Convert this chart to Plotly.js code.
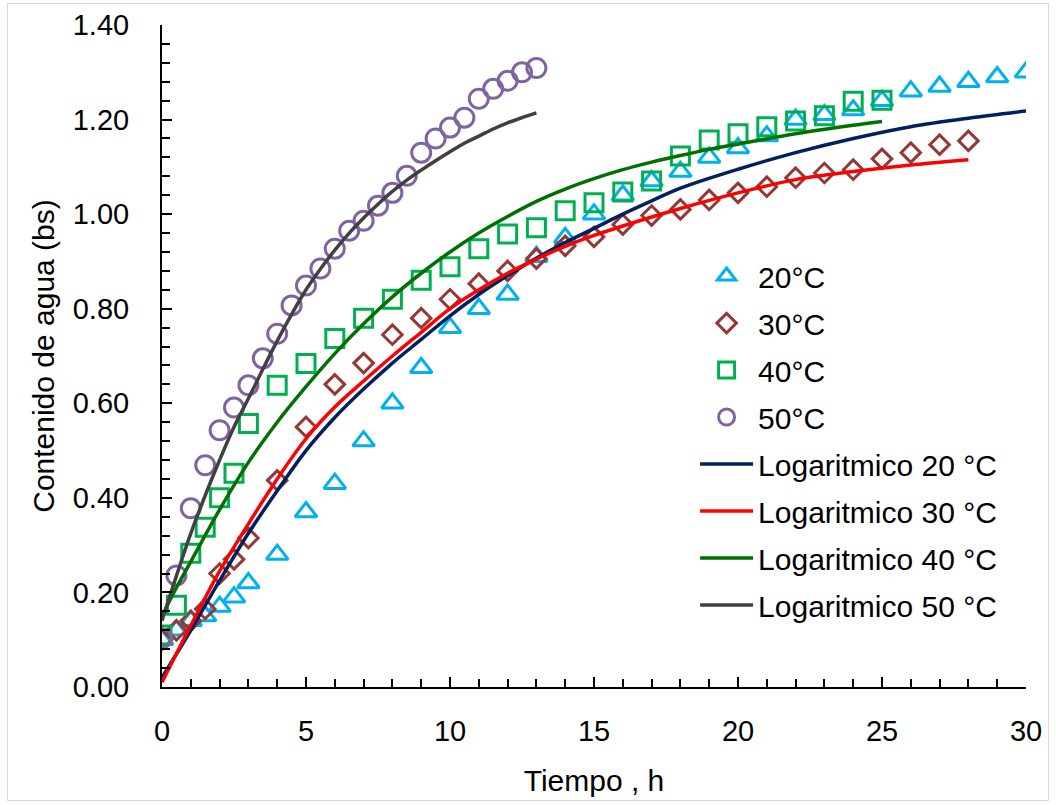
<!DOCTYPE html>
<html>
<head>
<meta charset="utf-8">
<script src="https://cdn.plot.ly/plotly-3.0.1.min.js"></script>
<style>
html,body{margin:0;padding:0;background:#fff;}
#chart{width:1056px;height:805px;}
#frame{position:absolute;left:7px;top:3px;width:1040px;height:796px;border:1px solid #d9d9d9;pointer-events:none;}
</style>
</head>
<body>
<div id="chart"></div>
<div id="frame"></div>
<script>
// Observed data (time in h, water content in bs)
const t20 = [0,0.5,1,1.5,2,2.5,3,4,5,6,7,8,9,10,11,12,13,14,15,16,17,18,19,20,21,22,23,24,25,26,27,28,29,30];
const y20 = [0.10,0.12,0.14,0.15,0.17,0.19,0.22,0.28,0.37,0.43,0.52,0.60,0.675,0.76,0.80,0.83,0.91,0.95,1.00,1.04,1.07,1.09,1.12,1.14,1.165,1.20,1.21,1.22,1.24,1.26,1.27,1.28,1.29,1.30];

const t30 = [0,0.5,1,1.5,2,2.5,3,4,5,6,7,8,9,10,11,12,13,14,15,16,17,18,19,20,21,22,23,24,25,26,27,28];
const y30 = [0.10,0.12,0.14,0.165,0.24,0.27,0.315,0.437,0.55,0.64,0.685,0.745,0.78,0.82,0.853,0.88,0.906,0.933,0.952,0.978,0.997,1.01,1.03,1.045,1.058,1.077,1.087,1.094,1.117,1.13,1.147,1.155];

const t40 = [0,0.5,1,1.5,2,2.5,3,4,5,6,7,8,9,10,11,12,13,14,15,16,17,18,19,20,21,22,23,24,25];
const y40 = [0.11,0.173,0.283,0.338,0.40,0.452,0.557,0.638,0.684,0.737,0.78,0.82,0.86,0.889,0.927,0.958,0.971,1.007,1.024,1.047,1.07,1.123,1.157,1.17,1.185,1.197,1.208,1.239,1.241];

const t50 = [0,0.5,1,1.5,2,2.5,3,3.5,4,4.5,5,5.5,6,6.5,7,7.5,8,8.5,9,9.5,10,10.5,11,11.5,12,12.5,13];
const y50 = [0.103,0.236,0.378,0.469,0.543,0.591,0.638,0.695,0.747,0.807,0.849,0.885,0.927,0.965,0.986,1.018,1.045,1.081,1.13,1.16,1.183,1.204,1.244,1.265,1.282,1.30,1.309];

// Logarithmic model curves
const tm20 = [0,1,2,3,4,5,6,7,8,9,10,11,12,13,14,15,16,17,18,20,22,24,26,28,30];
const ym20 = [0.02,0.12,0.225,0.325,0.415,0.50,0.57,0.63,0.685,0.735,0.785,0.83,0.87,0.907,0.94,0.97,1.00,1.028,1.055,1.095,1.13,1.16,1.185,1.203,1.218];

const tm30 = [0,1,2,3,4,5,6,7,8,9,10,11,12,13,14,15,16,18,20,22,24,26,28];
const ym30 = [0.01,0.13,0.245,0.345,0.44,0.525,0.592,0.647,0.70,0.75,0.80,0.84,0.875,0.905,0.932,0.955,0.975,1.012,1.045,1.073,1.09,1.104,1.115];

const tm40 = [0,0.5,1,2,3,4,5,6,7,8,9,10,11,12,13,14,15,16,17,18,19,20,22,24,25];
const ym40 = [0.15,0.21,0.265,0.375,0.475,0.56,0.635,0.705,0.768,0.825,0.875,0.92,0.96,0.995,1.027,1.053,1.075,1.094,1.11,1.124,1.137,1.148,1.17,1.188,1.196];

const tm50 = [0,0.5,1,1.5,2,2.5,3,3.5,4,4.5,5,5.5,6,6.5,7,7.5,8,8.5,9,9.5,10,10.5,11,11.5,12,12.5,13];
const ym50 = [0.14,0.235,0.325,0.405,0.48,0.55,0.61,0.672,0.732,0.788,0.84,0.884,0.924,0.96,0.992,1.021,1.048,1.072,1.093,1.113,1.132,1.15,1.165,1.18,1.193,1.204,1.214];

const names = ['20°C','30°C','40°C','50°C','Logaritmico 20 °C','Logaritmico 30 °C','Logaritmico 40 °C','Logaritmico 50 °C'];

const FONT = '"Liberation Sans", Arial, sans-serif';

function pts(x, y, name, symbol, color, size, g) {
  return {x: x, y: y, name: name, legendgroup: g, type: 'scatter', mode: 'markers',
    marker: {symbol: symbol, size: size, color: color, line: {color: color, width: 3}}};
}
function ln(x, y, name, color, g) {
  return {x: x, y: y, name: name, legendgroup: g, type: 'scatter', mode: 'lines',
    line: {color: color, width: 3.5, shape: 'spline', smoothing: 1}};
}

const data = [
  pts(t20, y20, names[0], 'triangle-up-open', '#00B0F0', 19, 'g1'),
  pts(t30, y30, names[1], 'diamond-open', '#953735', 15, 'g2'),
  pts(t40, y40, names[2], 'square-open', '#00B050', 18, 'g3'),
  pts(t50, y50, names[3], 'circle-open', '#8064A2', 19, 'g4'),
  ln(tm20, ym20, names[4], '#002060', 'g5'),
  ln(tm30, ym30, names[5], '#FF0000', 'g6'),
  ln(tm40, ym40, names[6], '#007000', 'g7'),
  ln(tm50, ym50, names[7], '#404040', 'g8')
];

const layout = {
  width: 1056, height: 805,
  margin: {l: 162, r: 30, t: 25, b: 118},
  paper_bgcolor: '#fff', plot_bgcolor: '#fff',
  font: {family: FONT, size: 29, color: '#000'},
  showlegend: true,
  legend: {x: 0.617, y: 0.66, xanchor: 'left', yanchor: 'top', bgcolor: 'rgba(0,0,0,0)',
    traceorder: 'grouped', tracegroupgap: 5,
    font: {family: FONT, size: 30, color: '#000'}, itemwidth: 53},
  xaxis: {
    range: [0, 30], tickvals: [0,5,10,15,20,25,30], ticktext: ['0','5','10','15','20','25','30'],
    showgrid: false, zeroline: false, showline: true, linecolor: '#000', linewidth: 2,
    ticks: 'inside', ticklen: 10, tickwidth: 2, tickcolor: '#000',
    minor: {dtick: 1, ticks: 'inside', ticklen: 8, tickwidth: 2, tickcolor: '#000', showgrid: false},
    ticklabelstandoff: 17,
    tickfont: {family: FONT, size: 29, color: '#000'},
    title: {text: 'Tiempo , h', font: {family: FONT, size: 30, color: '#000'}, standoff: 24}
  },
  yaxis: {
    range: [0, 1.4], tickvals: [0,0.2,0.4,0.6,0.8,1.0,1.2,1.4],
    ticktext: ['0.00','0.20','0.40','0.60','0.80','1.00','1.20','1.40'],
    showgrid: false, zeroline: false, showline: true, linecolor: '#000', linewidth: 2,
    ticks: 'inside', ticklen: 10, tickwidth: 2, tickcolor: '#000',
    minor: {dtick: 0.04, ticks: 'inside', ticklen: 8, tickwidth: 2, tickcolor: '#000', showgrid: false},
    ticklabelstandoff: 25,
    tickfont: {family: FONT, size: 29, color: '#000'},
    title: {text: 'Contenido de agua (bs)', font: {family: FONT, size: 30, color: '#000'}, standoff: 9}
  }
};

Plotly.newPlot('chart', data, layout, {displayModeBar: false, staticPlot: true});
</script>
</body>
</html>
